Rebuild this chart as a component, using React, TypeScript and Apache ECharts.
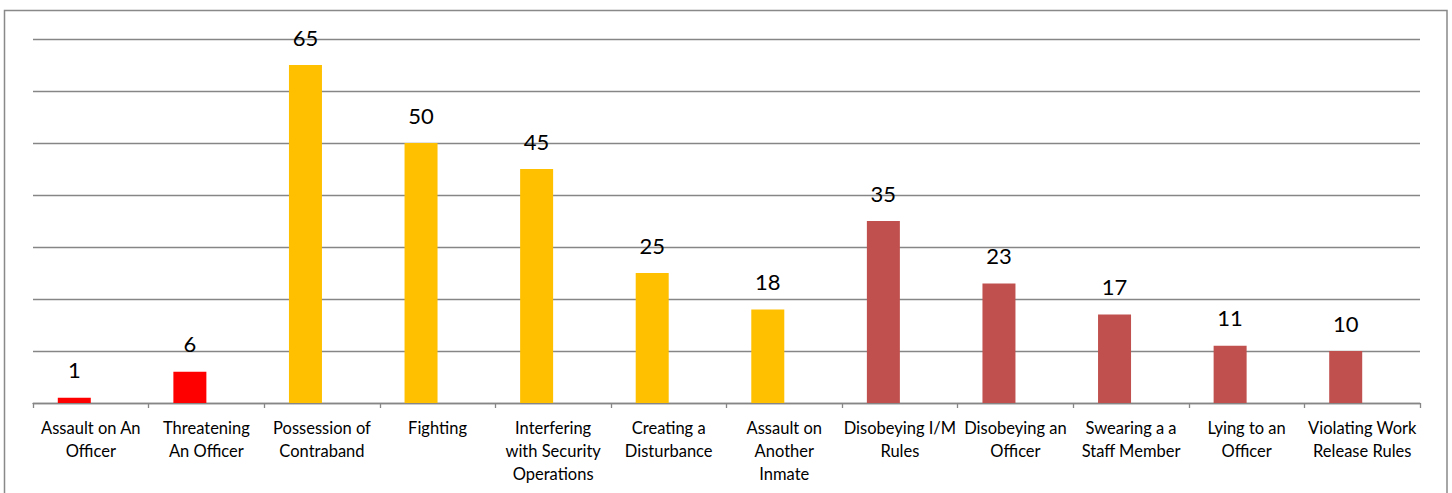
import React, { useEffect, useRef } from "react";
import * as echarts from "echarts";

const categories = [
  "Assault on An\nOfficer",
  "Threatening\nAn Officer",
  "Possession of\nContraband",
  "Fighting",
  "Interfering\nwith Security\nOperations",
  "Creating a\nDisturbance",
  "Assault on\nAnother\nInmate",
  "Disobeying I/M\nRules",
  "Disobeying an\nOfficer",
  "Swearing a a\nStaff Member",
  "Lying to an\nOfficer",
  "Violating Work\nRelease Rules",
];
const values = [1, 6, 65, 50, 45, 25, 18, 35, 23, 17, 11, 10];
const groups = [0, 0, 1, 1, 1, 1, 1, 2, 2, 2, 2, 2];
const emptySeries: (number | null)[] = categories.map(() => null);
const yTicks = [0, 10, 20, 30, 40, 50, 60, 70];

const palette = ["#FF0000", "#FFC000", "#C0504D"];
const FONT = "Lato, 'Open Sans', sans-serif";

export default function App() {
  const ref = useRef<HTMLDivElement>(null);
  useEffect(() => {
    if (!ref.current) return;
    const chart = echarts.init(ref.current, null, { renderer: "svg" });
    chart.setOption({
      animation: false,
      backgroundColor: "#ffffff",
      textStyle: { fontFamily: FONT },
      graphic: [
        {
          type: "rect",
          shape: { x: 4.5, y: 10.5, width: 1442.5, height: 500 },
          style: { fill: "none", stroke: "#898989", lineWidth: 1.5 },
          silent: true,
        },
      ],
      grid: { left: 33, right: 32, top: 39, bottom: 90, containLabel: false },
      xAxis: {
        type: "category",
        data: categories,
        axisLine: { show: true, lineStyle: { color: "#868686", width: 1.3 } },
        axisTick: { show: true, length: 5, alignWithLabel: false, lineStyle: { color: "#868686", width: 1.3 } },
        axisLabel: {
          interval: 0,
          color: "#000000",
          fontSize: 16.5,
          lineHeight: 23,
          margin: 13,
          fontFamily: FONT,
        },
      },
      yAxis: {
        type: "value",
        min: yTicks[0],
        max: yTicks[yTicks.length - 1],
        interval: 10,
        axisLine: { show: false },
        axisTick: { show: false },
        axisLabel: { show: false },
        splitLine: { show: true, lineStyle: { color: "#868686", width: 1.3 } },
      },
      series: [
        {
          type: "bar",
          barWidth: 33,
          barGap: "0%",
          data: values.map((v, i) => ({
            value: v,
            itemStyle: { color: palette[groups[i]] },
          })),
          label: {
            show: true,
            position: "top",
            distance: 17,
            color: "#000000",
            fontSize: 22,
            fontFamily: FONT,
          },
        },
        {
          type: "bar",
          barWidth: 33,
          barGap: "0%",
          data: emptySeries,
        },
      ],
    });
    return () => chart.dispose();
  }, []);
  return (
    <div
      ref={ref}
      style={{ position: "absolute", left: 0, top: 0, width: 1452, height: 493 }}
    />
  );
}
